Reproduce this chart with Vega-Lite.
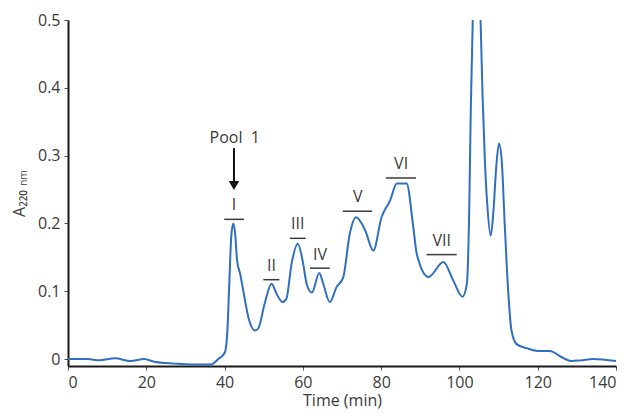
{
  "$schema": "https://vega.github.io/schema/vega-lite/v6.json",
  "width": 548,
  "height": 346,
  "autosize": {"type": "none"},
  "padding": {"left": 68, "top": 20, "right": 17, "bottom": 54},
  "background": "white",
  "config": {
    "view": {"stroke": null},
    "font": "Open Sans",
    "axis": {
      "grid": false,
      "domainColor": "#1a1a1a",
      "domainWidth": 2,
      "tickColor": "#555555",
      "tickSize": 4,
      "tickWidth": 1,
      "labelFont": "Open Sans",
      "labelFontSize": 16,
      "labelColor": "#3a3a3a",
      "titleFont": "Open Sans",
      "titleFontSize": 16,
      "titleFontWeight": "normal",
      "titleColor": "#3a3a3a"
    }
  },
  "datasets": {
    "curve": [
      {"t": 0, "a": 0.0}, {"t": 5, "a": 0.0}, {"t": 8, "a": -0.002}, {"t": 12, "a": 0.001},
      {"t": 16, "a": -0.003}, {"t": 19.5, "a": 0.0}, {"t": 22, "a": -0.004}, {"t": 25, "a": -0.006},
      {"t": 28, "a": -0.007}, {"t": 32, "a": -0.008}, {"t": 36.5, "a": -0.008}, {"t": 38.4, "a": 0.0},
      {"t": 40.1, "a": 0.01}, {"t": 40.7, "a": 0.04}, {"t": 41.2, "a": 0.11}, {"t": 41.7, "a": 0.18},
      {"t": 42.2, "a": 0.2}, {"t": 42.7, "a": 0.185}, {"t": 43.2, "a": 0.145}, {"t": 44, "a": 0.125},
      {"t": 44.8, "a": 0.1}, {"t": 46.1, "a": 0.061}, {"t": 47.8, "a": 0.042}, {"t": 48.6, "a": 0.045},
      {"t": 50.3, "a": 0.083}, {"t": 52, "a": 0.111}, {"t": 53.3, "a": 0.096}, {"t": 54.8, "a": 0.084},
      {"t": 55.8, "a": 0.089}, {"t": 57.1, "a": 0.14}, {"t": 58.7, "a": 0.17}, {"t": 60.1, "a": 0.14},
      {"t": 61, "a": 0.11}, {"t": 62.3, "a": 0.098}, {"t": 64.2, "a": 0.127}, {"t": 65.2, "a": 0.111},
      {"t": 66.9, "a": 0.084}, {"t": 68.6, "a": 0.106}, {"t": 70.3, "a": 0.12}, {"t": 72, "a": 0.185},
      {"t": 73.6, "a": 0.209}, {"t": 75.9, "a": 0.19}, {"t": 78, "a": 0.16}, {"t": 80.1, "a": 0.209},
      {"t": 82.3, "a": 0.234}, {"t": 84, "a": 0.259}, {"t": 86.5, "a": 0.259}, {"t": 88.2, "a": 0.195},
      {"t": 89.1, "a": 0.155}, {"t": 92.1, "a": 0.121}, {"t": 95.9, "a": 0.143}, {"t": 98.4, "a": 0.116},
      {"t": 100.8, "a": 0.092}, {"t": 101.9, "a": 0.111}, {"t": 102.5, "a": 0.219}, {"t": 102.9, "a": 0.367},
      {"t": 103.4, "a": 0.5}, {"t": 104.4, "a": 0.62}, {"t": 105.4, "a": 0.5}, {"t": 105.9, "a": 0.391},
      {"t": 106.5, "a": 0.293}, {"t": 107.1, "a": 0.229}, {"t": 108, "a": 0.182}, {"t": 108.7, "a": 0.219},
      {"t": 109.4, "a": 0.283}, {"t": 110.1, "a": 0.318}, {"t": 110.8, "a": 0.293}, {"t": 111.6, "a": 0.195},
      {"t": 112.5, "a": 0.096}, {"t": 113.3, "a": 0.042}, {"t": 114.6, "a": 0.022}, {"t": 117.2, "a": 0.016},
      {"t": 120.1, "a": 0.012}, {"t": 123.1, "a": 0.012}, {"t": 126, "a": 0.003}, {"t": 128.5, "a": -0.003},
      {"t": 131, "a": -0.002}, {"t": 134.2, "a": 0.0}, {"t": 140, "a": -0.003}
    ],
    "bars": [
      {"x1": 39.9, "x2": 45.0, "y": 0.206},
      {"x1": 49.9, "x2": 54.0, "y": 0.117},
      {"x1": 56.7, "x2": 60.7, "y": 0.178},
      {"x1": 61.8, "x2": 66.9, "y": 0.134},
      {"x1": 70.2, "x2": 77.7, "y": 0.218},
      {"x1": 81.2, "x2": 88.9, "y": 0.267},
      {"x1": 91.6, "x2": 99.3, "y": 0.154}
    ],
    "labels": [
      {"x": 42.4, "y": 0.227, "label": "I"},
      {"x": 52.0, "y": 0.137, "label": "II"},
      {"x": 58.7, "y": 0.199, "label": "III"},
      {"x": 64.4, "y": 0.154, "label": "IV"},
      {"x": 74.0, "y": 0.239, "label": "V"},
      {"x": 85.1, "y": 0.288, "label": "VI"},
      {"x": 95.5, "y": 0.174, "label": "VII"},
      {"x": 42.6, "y": 0.326, "label": "Pool\u00a0 1"}
    ],
    "arrow": [
      {"x": 42.4, "y1": 0.311, "y2": 0.262, "tip": 0.256}
    ]
  },
  "layer": [
    {
      "data": {"name": "curve"},
      "mark": {"type": "line", "interpolate": "monotone", "color": "#2f6fc0", "strokeWidth": 2, "clip": true},
      "encoding": {
        "x": {
          "field": "t", "type": "quantitative",
          "scale": {"domain": [0, 140], "nice": false, "zero": false},
          "axis": {"values": [0, 20, 40, 60, 80, 100, 120, 140], "title": "Time (min)", "labelPadding": 4, "titlePadding": 2}
        },
        "y": {
          "field": "a", "type": "quantitative",
          "scale": {"domain": [-0.0103, 0.5], "nice": false, "zero": false},
          "axis": {
            "values": [0, 0.1, 0.2, 0.3, 0.4, 0.5],
            "labelExpr": "datum.value == 0 ? '0' : format(datum.value, '.1f')",
            "title": "A₂₂₀ ₙₘ",
            "labelPadding": 4,
            "titlePadding": 10
          }
        }
      }
    },
    {
      "data": {"name": "bars"},
      "mark": {"type": "rule", "color": "#3a3a3a", "strokeWidth": 1.5},
      "encoding": {
        "x": {"field": "x1", "type": "quantitative"},
        "x2": {"field": "x2"},
        "y": {"field": "y", "type": "quantitative"}
      }
    },
    {
      "data": {"name": "labels"},
      "mark": {"type": "text", "font": "Open Sans", "fontSize": 16, "color": "#3a3a3a", "baseline": "middle", "align": "center"},
      "encoding": {
        "x": {"field": "x", "type": "quantitative"},
        "y": {"field": "y", "type": "quantitative"},
        "text": {"field": "label"}
      }
    },
    {
      "data": {"name": "arrow"},
      "mark": {"type": "rule", "color": "#111111", "strokeWidth": 2},
      "encoding": {
        "x": {"field": "x", "type": "quantitative"},
        "y": {"field": "y1", "type": "quantitative"},
        "y2": {"field": "y2"}
      }
    },
    {
      "data": {"name": "arrow"},
      "mark": {"type": "point", "shape": "triangle-down", "filled": true, "color": "#111111", "size": 110, "opacity": 1},
      "encoding": {
        "x": {"field": "x", "type": "quantitative"},
        "y": {"field": "tip", "type": "quantitative"}
      }
    }
  ]
}
